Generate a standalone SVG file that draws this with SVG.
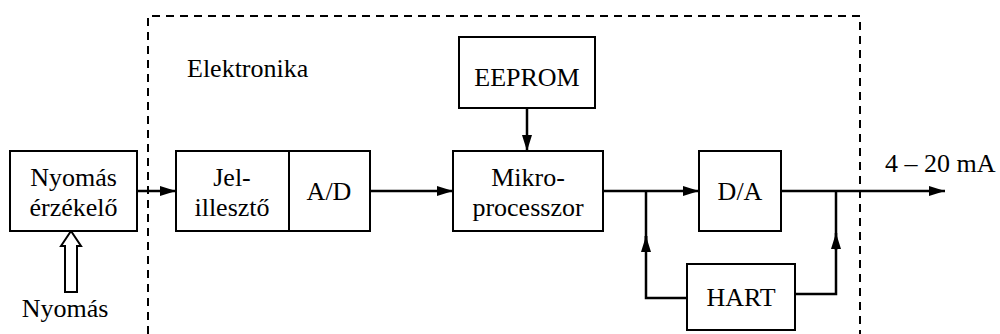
<svg xmlns="http://www.w3.org/2000/svg" width="1000" height="334" viewBox="0 0 1000 334">
  <style>
    .box { fill: #fff; stroke: #000; stroke-width: 2; }
    .wire { fill: none; stroke: #000; stroke-width: 2.5; }
    .frame { fill: none; stroke: #000; stroke-width: 2; stroke-dasharray: 8 6; }
    .lbl { font-family: 'Liberation Serif', 'Times New Roman', Tinos, 'DejaVu Serif', serif; font-size: 26px; fill: #000; }
    .c { text-anchor: middle; }
  </style>
  <defs>
    <marker id="arrow" viewBox="0 0 16 10" refX="16" refY="5" markerWidth="16" markerHeight="10" markerUnits="userSpaceOnUse" orient="auto">
      <path d="M0,0 L16,5 L0,10 Z" fill="#000"/>
    </marker>
  </defs>

  <rect width="1000" height="334" fill="#fff"/>

  <!-- electronics enclosure -->
  <path class="frame" d="M148,334 V16 H860 V334"/>

  <g id="connectors">
    <line class="wire" x1="137" y1="191" x2="176" y2="191" marker-end="url(#arrow)"/>
    <line class="wire" x1="370" y1="191" x2="453" y2="191" marker-end="url(#arrow)"/>
    <line class="wire" x1="527" y1="108" x2="527" y2="151" marker-end="url(#arrow)"/>
    <line class="wire" x1="603" y1="191" x2="699" y2="191" marker-end="url(#arrow)"/>
    <polyline class="wire" points="687,298 646,298 646,236"/>
    <line class="wire" x1="646" y1="252" x2="646" y2="236" marker-end="url(#arrow)"/>
    <line class="wire" x1="646" y1="252" x2="646" y2="191"/>
    <line class="wire" x1="781" y1="191" x2="945" y2="191" marker-end="url(#arrow)"/>
    <polyline class="wire" points="795,294 836,294 836,191"/>
    <line class="wire" x1="836" y1="250" x2="836" y2="233" marker-end="url(#arrow)"/>
    <!-- hollow pressure arrow -->
    <polygon class="box" points="71,231 81,246 77,246 77,292 65,292 65,246 61,246"/>
  </g>

  <g class="lbl" font-family="Liberation Serif, serif" font-size="26">
    <text id="enclosure-label" x="187" y="77">Elektronika</text>

    <g id="sensor">
      <rect class="box" x="10" y="151" width="127" height="80"/>
      <text class="c" x="73.5" y="186">Nyomás</text>
      <text class="c" x="73.5" y="216">érzékelő</text>
    </g>

    <g id="pressure">
      <text class="c" x="65" y="317">Nyomás</text>
    </g>

    <g id="conditioner">
      <rect class="box" x="176" y="151" width="194" height="80"/>
      <line class="box" x1="289" y1="151" x2="289" y2="231"/>
      <text class="c" x="232" y="186">Jel-</text>
      <text class="c" x="232" y="216">illesztő</text>
      <text class="c" x="329" y="200">A/D</text>
    </g>

    <g id="eeprom">
      <rect class="box" x="459" y="37" width="136" height="71"/>
      <text class="c" x="527" y="86">EEPROM</text>
    </g>

    <g id="cpu">
      <rect class="box" x="453" y="151" width="150" height="80"/>
      <text class="c" x="528" y="186">Mikro-</text>
      <text class="c" x="528" y="216">processzor</text>
    </g>

    <g id="dac">
      <rect class="box" x="699" y="151" width="82" height="80"/>
      <text class="c" x="740" y="200">D/A</text>
    </g>

    <g id="hart">
      <rect class="box" x="687" y="264" width="108" height="66"/>
      <text class="c" x="741" y="306">HART</text>
    </g>

    <g id="output">
      <text x="885" y="172">4 – 20 mA</text>
    </g>
  </g>
</svg>
